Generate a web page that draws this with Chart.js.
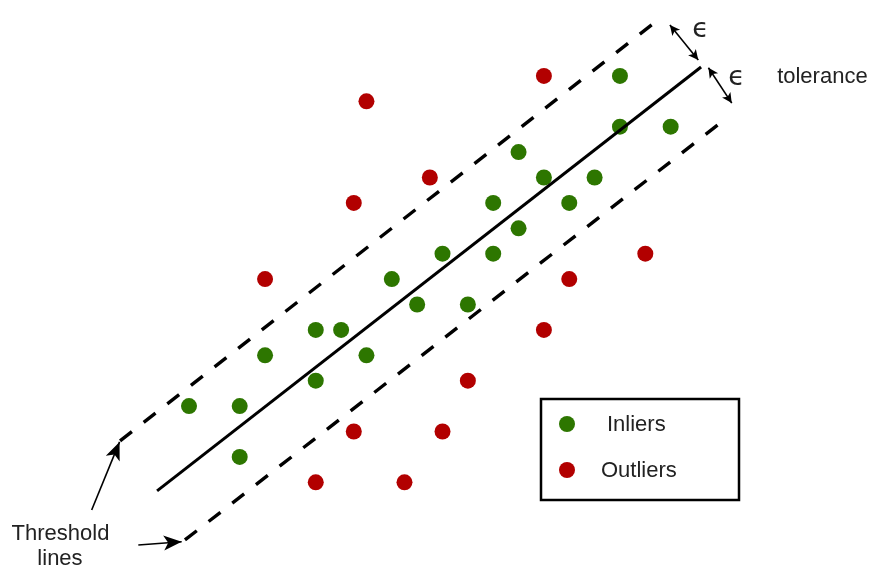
<!DOCTYPE html>
<html>
<head>
<meta charset="utf-8">
<script src="https://cdn.jsdelivr.net/npm/chart.js@4"></script>
<style>
html, body { margin: 0; padding: 0; background: #fff; }
#wrap { width: 871px; height: 567px; }
</style>
</head>
<body>
<div id="wrap"><canvas id="ransac" width="871" height="567"></canvas></div>
<script>
// positions in grid units (one step = spacing between neighbouring dots)
const inlierX = [1, 3, 3, 4, 6, 7, 6, 8, 9, 10, 11, 12, 13, 13, 14, 14, 15, 16, 17, 18, 18, 20];
const inlierY = [4, 4, 2, 6, 7, 7, 5, 6, 9, 8, 10, 8, 12, 10, 14, 11, 13, 12, 13, 17, 15, 15];
const outlierX = [8, 7.5, 4, 15, 10.5, 19, 16, 15, 12, 7.5, 11, 6, 9.5];
const outlierY = [16, 12, 9, 17, 13, 10, 9, 7, 5, 3, 3, 1, 1];

// fitted line and the two threshold lines: [start, end]
const modelLine = [[-0.26, 0.66], [21.2, 17.35]];
const upperThreshold = [[-1.72, 2.63], [19.7, 19.36]];
const lowerThreshold = [[0.84, -1.27], [22.26, 15.38]];

const legendLabels = ['Inliers', 'Outliers'];

const COLORS = {
	green: '#2D7600',
	red: '#B20000',
	black: '#000',
	text: '#222'
};

const toPoints = (xs, ys) => xs.map((x, i) => ({ x: x, y: ys[i] }));
const toLine = (seg) => seg.map(p => ({ x: p[0], y: p[1] }));

// annotations, same grid units as the data
const arrows = [
	{ from: [19.97, 19.0], to: [21.09, 17.63], both: true, len: 10, half: 5 },
	{ from: [21.49, 17.32], to: [22.41, 15.93], both: true, len: 10, half: 5 },
	{ from: [-2.84, -0.09], to: [-1.74, 2.59], both: false, len: 18, half: 7.5 },
	{ from: [-1.0, -1.47], to: [0.71, -1.34], both: false, len: 18, half: 7.5 }
];
const notes = [
	{ text: '\u03F5', x: 20.85, y: 18.54, align: 'left', font: '27px "DejaVu Sans"' },
	{ text: '\u03F5', x: 22.27, y: 16.64, align: 'left', font: '27px "DejaVu Sans"' },
	{ text: 'tolerance', x: 24.20, y: 16.72, align: 'left', font: '22px "Liberation Sans"' },
	{ text: 'Threshold', x: -4.07, y: -1.27, align: 'center', font: '22px "Liberation Sans"' },
	{ text: 'lines', x: -4.09, y: -2.26, align: 'center', font: '22px "Liberation Sans"' }
];

function drawHead(c, x1, y1, x2, y2, len, half) {
	const a = Math.atan2(y2 - y1, x2 - x1);
	const cos = Math.cos(a), sin = Math.sin(a);
	const bx = x2 - len * cos, by = y2 - len * sin;
	c.beginPath();
	c.moveTo(x2, y2);
	c.lineTo(bx + half * sin, by - half * cos);
	c.lineTo(x2 - len * 0.75 * cos, y2 - len * 0.75 * sin);
	c.lineTo(bx - half * sin, by + half * cos);
	c.closePath();
	c.fill();
}

const annotationPlugin = {
	id: 'annotations',
	afterDatasetsDraw(chart) {
		const c = chart.ctx;
		const xs = chart.scales.x, ys = chart.scales.y;
		const px = p => [xs.getPixelForValue(p[0]), ys.getPixelForValue(p[1])];
		c.save();
		c.strokeStyle = COLORS.black;
		c.fillStyle = COLORS.black;
		c.lineWidth = 1.6;
		arrows.forEach(ar => {
			const [x1, y1] = px(ar.from);
			const [x2, y2] = px(ar.to);
			c.beginPath();
			c.moveTo(x1, y1);
			c.lineTo(x2, y2);
			c.stroke();
			drawHead(c, x1, y1, x2, y2, ar.len, ar.half);
			if (ar.both) drawHead(c, x2, y2, x1, y1, ar.len, ar.half);
		});

		c.fillStyle = COLORS.text;
		c.textBaseline = 'alphabetic';
		notes.forEach(n => {
			const [x, y] = px([n.x, n.y]);
			c.font = n.font;
			c.textAlign = n.align;
			c.fillText(n.text, x, y);
		});

		// legend box
		const area = chart.chartArea;
		const bx = area.left + 541, by = area.top + 399;
		c.lineWidth = 2.5;
		c.strokeStyle = COLORS.black;
		c.strokeRect(bx, by, 198, 101);
		const dots = [COLORS.green, COLORS.red];
		const textX = [bx + 66, bx + 60];
		legendLabels.forEach((label, i) => {
			const cy = by + 25 + i * 46;
			c.fillStyle = dots[i];
			c.beginPath();
			c.arc(bx + 26, cy, 8, 0, Math.PI * 2);
			c.fill();
			c.fillStyle = COLORS.text;
			c.font = '22px "Liberation Sans"';
			c.textAlign = 'left';
			c.fillText(label, textX[i], cy + 7);
		});
		c.restore();
	}
};

const lineStyle = {
	type: 'line',
	showLine: true,
	fill: false,
	pointRadius: 0,
	borderColor: COLORS.black,
	borderWidth: 3,
	borderCapStyle: 'butt',
	order: 1
};

new Chart(document.getElementById('ransac'), {
	type: 'scatter',
	data: {
		datasets: [
			{ ...lineStyle, label: 'model', data: toLine(modelLine) },
			{ ...lineStyle, label: 'upper threshold', data: toLine(upperThreshold), borderDash: [15, 15], borderWidth: 3.4 },
			{ ...lineStyle, label: 'lower threshold', data: toLine(lowerThreshold), borderDash: [15, 15], borderWidth: 3.4 },
			{
				label: legendLabels[0],
				data: toPoints(inlierX, inlierY),
				backgroundColor: COLORS.green,
				pointRadius: 8,
				pointBorderWidth: 0,
				order: 2
			},
			{
				label: legendLabels[1],
				data: toPoints(outlierX, outlierY),
				backgroundColor: COLORS.red,
				pointRadius: 8,
				pointBorderWidth: 0,
				order: 2
			}
		]
	},
	options: {
		responsive: false,
		animation: false,
		devicePixelRatio: 1,
		layout: { padding: 0, autoPadding: false },
		events: [],
		plugins: {
			legend: { display: false },
			tooltip: { enabled: false }
		},
		scales: {
			x: { type: 'linear', display: false, min: -6.456, max: 27.903 },
			y: { type: 'linear', display: false, min: -2.335, max: 19.988 }
		}
	},
	plugins: [annotationPlugin]
});
</script>
</body>
</html>
